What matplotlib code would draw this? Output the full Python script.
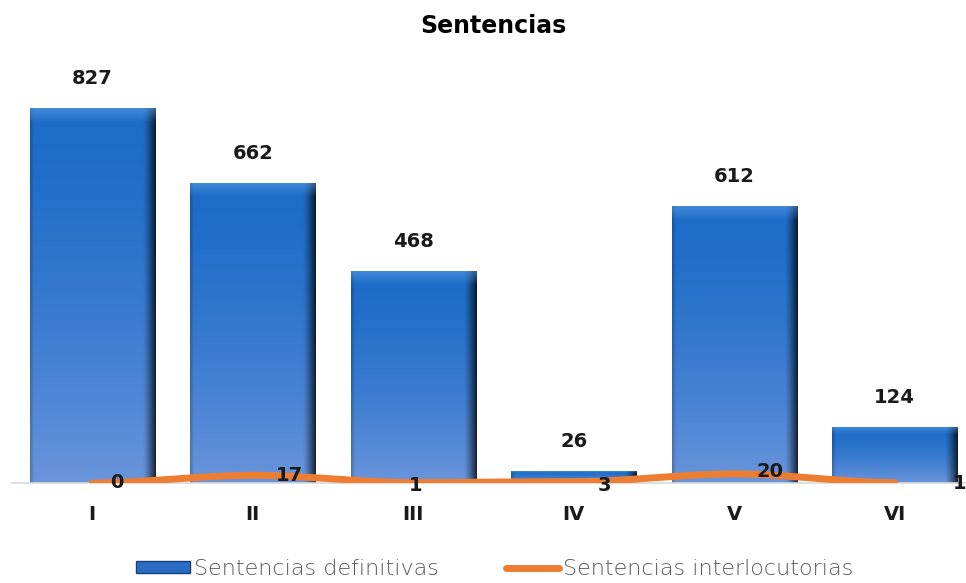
import numpy as np
import matplotlib
matplotlib.use("Agg")
import matplotlib.pyplot as plt
from matplotlib.colors import to_rgb
from matplotlib.lines import Line2D
from matplotlib.patches import Rectangle
from matplotlib.transforms import ScaledTranslation

categories = ["I", "II", "III", "IV", "V", "VI"]
definitivas = [827, 662, 468, 26, 612, 124]
interlocutorias = [0, 17, 1, 3, 20, 1]

# label offsets for the line series (pixels), as placed in the original
line_lbl_dx = [25, 37, 2, 31, 36, 65]
line_lbl_dy = [0, 0, -3, -4, 2, -1]

plt.rcParams['font.family'] = ['DejaVu Sans']

fig = plt.figure(figsize=(9.66, 5.83), dpi=100)
ax = fig.add_axes([12 / 966, 100 / 583, 963 / 966, 408 / 583])

x = np.arange(len(categories))
width = 0.78
bars = ax.bar(x, definitivas, width=width, color="#2a72cf", zorder=2)

# gradient fill for each bar, clipped to the bar rectangle
def bar_image(h_px):
    ny, nx = 300, 120
    top = np.array(to_rgb("#1c6cc8"))
    bot = np.array(to_rgb("#6a95dc"))
    t = np.linspace(0, 1, ny)[:, None, None]
    img = top * (1 - t ** 1.6) + bot * t ** 1.6
    img = np.repeat(img, nx, axis=1)
    u = np.linspace(0, 1, nx)[None, :, None]
    # dark right edge, slight left edge
    dark = np.clip((u - 0.9) / 0.1, 0, 1) ** 1.3 * 0.75
    dark += np.clip((0.03 - u) / 0.03, 0, 1) * 0.2
    img = img * (1 - dark)
    # lighter bevel at top, fading downwards
    bev = max(6, int(ny * min(0.15, 16 / max(h_px, 1))))
    fade = np.linspace(0.5, 0.0, bev)[:, None, None]
    img[:bev] = img[:bev] * (1 - fade) + np.array(to_rgb("#6aaaf2")) * fade
    return np.clip(img, 0, 1)

for b in bars:
    b.set_facecolor("none")
    x0, w, h = b.get_x(), b.get_width(), b.get_height()
    h_px = h * 408 / 900
    im = ax.imshow(bar_image(h_px), extent=[x0, x0 + w, 0, h], aspect="auto",
                   origin="upper", zorder=2, interpolation="bilinear")
    im.set_clip_path(b)
    ax.text(x0 + w / 2, h, str(int(h)), ha="center", va="bottom",
            fontsize=14, fontweight="bold", color="#1a1a1a",
            transform=ax.transData + ScaledTranslation(0, 0.20, fig.dpi_scale_trans))

# smoothed line
xs = np.linspace(0, len(x) - 1, 300)
ys = np.zeros_like(xs)
for i in range(len(x) - 1):
    m = (xs >= i) & (xs <= i + 1)
    s = xs[m] - i
    s = 3 * s ** 2 - 2 * s ** 3
    ys[m] = interlocutorias[i] * (1 - s) + interlocutorias[i + 1] * s
ax.plot(xs, ys, color="#ed7d31", lw=5, solid_capstyle="round", zorder=3)

for i, v in enumerate(interlocutorias):
    ax.annotate(str(v), (x[i], v), xytext=(line_lbl_dx[i] * 0.72, line_lbl_dy[i] * 0.72),
                textcoords="offset points", ha="center", va="center",
                fontsize=14, fontweight="bold", color="#1a1a1a", zorder=4,
                annotation_clip=False)

ax.set_xlim(-0.5, 5.5)
ax.set_ylim(0, 900)
ax.set_yticks([])
ax.set_xticks(x)
ax.set_xticklabels(categories, fontsize=14, fontweight="bold", color="#1a1a1a")
ax.tick_params(axis="x", length=0, pad=16)
for s in ["top", "right", "left"]:
    ax.spines[s].set_visible(False)
ax.spines["bottom"].set_color("#d9d9d9")
ax.spines["bottom"].set_linewidth(1.2)
ax.patch.set_alpha(0)

fig.text(493 / 966, 1 - 26 / 583, "Sentencias", ha="center", va="center",
         fontsize=17, fontweight="bold", color="#000000")

handles = [Rectangle((0, 0), 1, 1, facecolor="#2a6cc4", edgecolor="#1a3f77"),
           Line2D([0], [0], color="#ed7d31", lw=5, solid_capstyle="round")]
leg = fig.legend(handles, ["Sentencias definitivas", "Sentencias interlocutorias"],
                 loc="center", bbox_to_anchor=(495 / 966, 1 - 569 / 583), ncol=2,
                 frameon=False, handlelength=2.4, handleheight=0.45,
                 handletextpad=0.2, columnspacing=3.0, borderpad=0.2,
                 prop={"size": 16, "weight": "light"})
for t in leg.get_texts():
    t.set_color("#595959")

fig.savefig("out.png", dpi=100)
